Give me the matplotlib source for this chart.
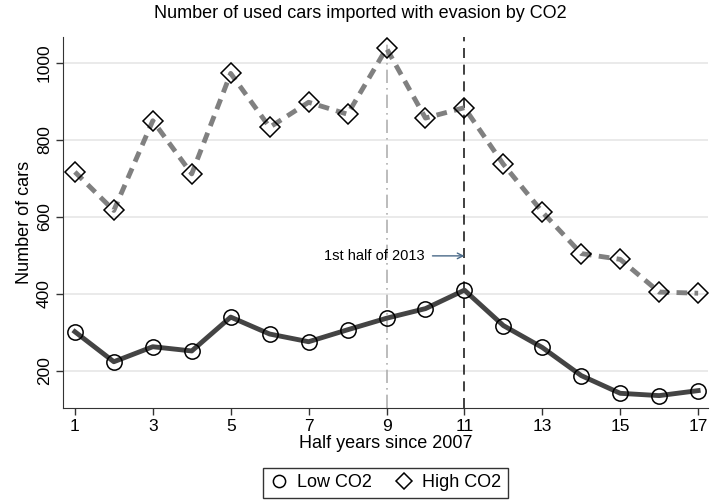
import matplotlib.pyplot as plt

plt.rcParams['font.family'] = ['Liberation Sans', 'DejaVu Sans']

# half-year index and counts
half_years = list(range(1, 18))
low_co2 = [302, 224, 263, 252, 340, 296, 276, 307, 337, 362, 410, 318, 261, 188, 142, 136, 149]
high_co2 = [717, 617, 850, 712, 973, 833, 898, 867, 1038, 857, 884, 737, 613, 505, 490, 405, 402]
x_ticks = [1, 3, 5, 7, 9, 11, 13, 15, 17]
y_ticks = [200, 400, 600, 800, 1000]

fig = plt.figure(figsize=(7.1, 5.03), dpi=100)
ax = fig.add_axes([0.089, 0.189, 0.908, 0.737])

ax.axvline(9, color='#b0b0b0', lw=1.2, ls=(0, (8, 3, 1, 3)), zorder=1)
ax.axvline(11, color='#202020', lw=1.2, ls=(0, (6, 4)), zorder=1)

ax.plot(half_years, low_co2, color='#444444', lw=3.5, marker='o', ms=11,
        mfc='none', mec='black', mew=1.1, label='Low CO2', zorder=3)
ax.plot(half_years, high_co2, color='#808080', lw=3.5, ls=(0, (2.2, 1.5)), marker='D', ms=10,
        mfc='none', mec='black', mew=1.1, label='High CO2', zorder=3)

# note for the policy change
ax.text(9.98, 499, '1st half of 2013', fontsize=10.5, va='center', ha='right')
ax.annotate('', xy=(11, 499), xytext=(10.18, 499),
            arrowprops=dict(arrowstyle='->', color='#4a6a88', lw=1.0, shrinkA=0, shrinkB=0))

ax.set_xlim(0.7, 17.25)
ax.set_ylim(104, 1067)
ax.set_xticks(x_ticks)
ax.set_yticks(y_ticks)
ax.set_yticklabels([str(v) for v in y_ticks], rotation=90, va='center')
ax.tick_params(labelsize=12.5, length=5, width=1, color='#333333', pad=3)
ax.grid(axis='y', color='#e6e6e6', lw=1.2, zorder=0)
ax.set_axisbelow(True)
for side in ['top', 'right']:
    ax.spines[side].set_visible(False)
for side in ['left', 'bottom']:
    ax.spines[side].set_color('#333333')

fig.text(0.507, 0.973, 'Number of used cars imported with evasion by CO2', fontsize=13,
         ha='center', va='center')
ax.set_xlabel('Half years since 2007', fontsize=13, labelpad=1)
ax.set_ylabel('Number of cars', fontsize=13, labelpad=3)

leg = ax.legend(loc='upper center', bbox_to_anchor=(0.5, -0.162), ncol=2, fontsize=13,
                frameon=True, fancybox=False, edgecolor='black', handlelength=1.0,
                columnspacing=1.3, borderpad=0.35, handletextpad=0.5, markerscale=0.8,
                borderaxespad=0)
leg.get_frame().set_linewidth(1.0)
for h in leg.legend_handles:
    h.set_linestyle('none')

fig.savefig('out.png', dpi=100)
